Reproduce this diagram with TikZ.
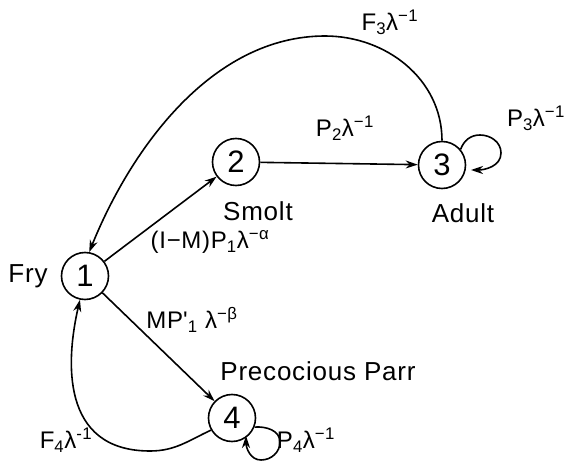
\documentclass[tikz,border=0pt]{standalone}
\usepackage{fontspec}
\setmainfont{Liberation Sans}[LetterSpace=3]
\usetikzlibrary{arrows.meta}
\begin{document}
\begin{tikzpicture}[x=1pt,y=1pt,
  state/.style={circle,draw,line width=1.6pt,minimum size=47pt,inner sep=0pt,font=\fontsize{31}{32}\selectfont},
  lbl/.style={font=\fontsize{26}{28}\selectfont,inner sep=0pt},
  elbl/.style={font=\fontsize{24}{26}\selectfont,inner sep=0pt},
  edge/.style={line width=1.6pt,-{Stealth[length=12pt,width=8pt]}},
]
\useasboundingbox (0,0) rectangle (573,-462);
\node[state] (n1) at (85,-276) {1};
\node[state] (n2) at (236,-162) {2};
\node[state] (n3) at (442,-165) {3};
\node[state] (n4) at (232,-418) {4};

\node[lbl] (fry) at (28,-276) {Fry};
\node[lbl] (smolt) at (258,-211) {Smolt};
\node[lbl] (adult) at (463,-213) {Adult};
\node[lbl] (parr) at (318,-371) {Precocious Parr};

\node[elbl] (lf3) at (390,-22) {F\textsubscript{3}λ\textsuperscript{−1}};
\node[elbl] (lp2) at (345,-128) {P\textsubscript{2}λ\textsuperscript{−1}};
\node[elbl] (lp3) at (536,-118) {P\textsubscript{3}λ\textsuperscript{−1}};
\node[elbl] (lp1) at (210,-242) {(I−M)P\textsubscript{1}λ\textsuperscript{−α}};
\node[elbl] (lmp) at (192,-320) {MP\textquotesingle\textsubscript{1} λ\textsuperscript{−β}};
\node[elbl] (lf4) at (66,-440) {F\textsubscript{4}λ\textsuperscript{-1}};
\node[elbl] (lp4) at (306,-440) {P\textsubscript{4}λ\textsuperscript{−1}};

\coordinate (top3) at (325,-36);
\coordinate (bot4) at (150,-451);
\coordinate (t3) at (480,-135);
\coordinate (r3) at (501,-153);
\coordinate (l3) at (471,-170);
\coordinate (r4) at (280,-442);
\coordinate (b4) at (261,-460);
\coordinate (l4) at (246,-436);

\draw[edge] (n1) -- (n2);
\draw[edge] (n2) -- (n3);
\draw[edge] (n1) -- (n4);
\draw[edge] (n3.north) to[out=90,in=0] (top3) to[out=180,in=68,looseness=0.9] (n1.80);
\draw[edge] (n4.210) to[out=205,in=0] (bot4) .. controls (60,-451) and (66,-360) .. (n1.258);
\draw[edge] (n3.40) to[out=70,in=180] (t3) to[out=0,in=90] (r3) to[out=-90,in=0] (l3);
\draw[edge] (n4.-22) to[out=5,in=90] (r4) to[out=-90,in=0] (b4) to[out=180,in=-90] (l4);
\end{tikzpicture}
\end{document}
